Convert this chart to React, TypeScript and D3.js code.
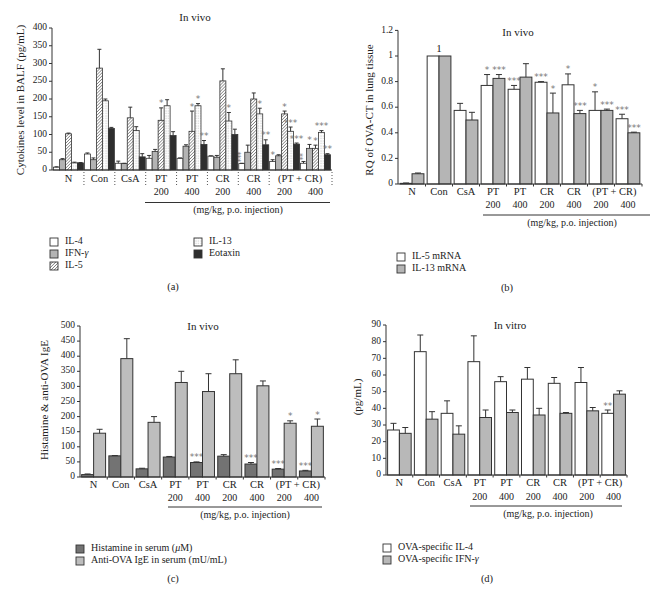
import React from "react";
import * as d3 from "d3";

// ---------- shared categories ----------
const GROUPS = ["N", "Con", "CsA", "PT200", "PT400", "CR200", "CR400", "PTCR200", "PTCR400"];
const CAT_LABELS = ["N", "Con", "CsA", "PT", "PT", "CR", "CR"];
const COMBO_LABEL = "(PT + CR)";
const DOSE_LABELS = ["", "", "", "200", "400", "200", "400", "200", "400"];
const UNIT_LABEL = "(mg/kg, p.o. injection)";

// ---------- panel (a) ----------
const A_IL4 = [8, 45, 19, 33, 33, 39, 18, 24, 19];
const A_IL4_SD = [1, 3, 6, 8, 1, 1, 1, 5, 5];
const A_IL4_SIG = ["", "", "", "", "", "", "*\n*\n*", "*", "*\n*"];
const A_IFN = [29, 29, 18, 52, 67, 36, 50, 40, 61];
const A_IFN_SD = [3, 5, 1, 6, 4, 5, 20, 3, 11];
const A_IFN_SIG = ["", "", "", "", "", "", "", "", "*"];
const A_IL5 = [102, 287, 147, 140, 109, 251, 200, 158, 61];
const A_IL5_SD = [2, 53, 30, 35, 57, 34, 17, 8, 9];
const A_IL5_SIG = ["", "", "", "*", "*", "", "", "*", "*"];
const A_IL13 = [20, 195, 111, 181, 181, 138, 158, 109, 106];
const A_IL13_SD = [2, 5, 11, 17, 6, 24, 16, 12, 5];
const A_IL13_SIG = ["", "", "", "", "*", "*", "*", "***", "***"];
const A_EOT = [20, 117, 37, 97, 72, 100, 71, 73, 43];
const A_EOT_SD = [1, 3, 9, 11, 11, 15, 14, 3, 3];
const A_EOT_SIG = ["", "", "", "", "**", "", "**", "***", "**"];
const A_TICKS = [0, 50, 100, 150, 200, 250, 300, 350, 400];

// ---------- panel (b) ----------
const B_IL5 = [0.005, 1, 0.575, 0.77, 0.74, 0.795, 0.775, 0.575, 0.51];
const B_IL5_SD = [0.003, 0, 0.055, 0.085, 0.03, 0.005, 0.085, 0.145, 0.035];
const B_IL5_SIG = ["", "", "", "*", "***", "***", "*", "*", "***"];
const B_IL13 = [0.08, 1, 0.5, 0.825, 0.835, 0.555, 0.55, 0.575, 0.4];
const B_IL13_SD = [0.006, 0, 0.06, 0.03, 0.105, 0.155, 0.025, 0.01, 0.005];
const B_IL13_SIG = ["", "", "", "***", "", "*", "***", "***", "***"];
const B_NOTES = ["", "1", "", "", "", "", "", "", ""];
const B_TICKS = [0, 0.2, 0.4, 0.6, 0.8, 1, 1.2];

// ---------- panel (c) ----------
const C_HIST = [8, 70, 27, 66, 48, 69, 43, 26, 20];
const C_HIST_SD = [2, 1, 2, 2, 2, 5, 5, 2, 2];
const C_HIST_SIG = ["", "", "", "", "***", "", "***", "***", "***"];
const C_IGE = [145, 392, 181, 313, 283, 342, 302, 178, 168];
const C_IGE_SD = [13, 66, 19, 37, 59, 46, 16, 8, 24];
const C_IGE_SIG = ["", "", "", "", "", "", "", "*", "*"];
const C_TICKS = [0, 50, 100, 150, 200, 250, 300, 350, 400, 450, 500];

// ---------- panel (d) ----------
const D_IL4 = [27, 74, 37, 68, 56, 57.5, 55, 55.5, 37];
const D_IL4_SD = [4, 10, 7.5, 15.5, 3, 7, 3.5, 9, 2];
const D_IL4_SIG = ["", "", "", "", "", "", "", "", "**"];
const D_IFN = [25, 33.5, 24.5, 34.5, 37.5, 36, 37, 38.5, 48.5];
const D_IFN_SD = [3.5, 4.5, 5, 4.5, 1.5, 4, 0.5, 2, 2];
const D_IFN_SIG = ["", "", "", "", "", "", "", "", ""];
const D_TICKS = [0, 10, 20, 30, 40, 50, 60, 70, 80, 90];

const FONT = "'Liberation Serif', 'DejaVu Serif', serif";
const INK = "#333";

type Series = {
  key: string;
  label: React.ReactNode;
  values: number[];
  sd: number[];
  sig: string[];
  fill: string;
};

type PanelProps = {
  series: Series[];
  x0: number; x1: number;
  yBottom: number; yTop: number; yMax: number;
  ticks: number[];
  padInner: number; padOuter: number; barPad: number;
  title: string; titleX: number; titleY: number;
  yLabel: string; yLabelX: number; yLabelY: number;
  catY: number; doseY: number; lineY: number; lineX0: number; lineX1: number;
  unitX: number; unitY: number;
  dotted: boolean;
  legendPos: { x: number; y: number }[];
  tag: string; tagX: number; tagY: number;
  notes?: string[];
  capW: number;
  barStroke: number;
};

function Panel(p: PanelProps) {
  const x = d3.scaleBand<string>().domain(GROUPS).range([p.x0, p.x1])
    .paddingInner(p.padInner).paddingOuter(p.padOuter);
  const xi = d3.scaleBand<string>().domain(p.series.map((s) => s.key))
    .range([0, x.bandwidth()]).paddingInner(p.barPad);
  const y = d3.scaleLinear().domain([0, p.yMax]).range([p.yBottom, p.yTop]);
  const gap = x.step() - x.bandwidth();
  const boundaries = GROUPS.slice(1).map((g) => (x(g) as number) - gap / 2);
  const center = (g: string) => (x(g) as number) + x.bandwidth() / 2;

  return (
    <g fontFamily={FONT}>
      <text x={p.titleX} y={p.titleY} textAnchor="middle" fontSize={11} fill="#222" dominantBaseline="middle">{p.title}</text>
      <text transform={`translate(${p.yLabelX},${p.yLabelY}) rotate(-90)`} textAnchor="middle" fontSize={11} fill="#222" dominantBaseline="middle">{p.yLabel}</text>
      <line x1={p.x0} x2={p.x0} y1={p.yBottom} y2={p.yTop} stroke={INK} strokeWidth={1} />
      {p.ticks.map((t) => (
        <g key={t}>
          <line x1={p.x0 - 3} x2={p.x0} y1={y(t)} y2={y(t)} stroke={INK} />
          <text x={p.x0 - 5} y={y(t)} textAnchor="end" dominantBaseline="middle" fontSize={9.5} fill="#222">{String(t)}</text>
        </g>
      ))}
      {p.series.map((s) => (
        <g key={s.key}>
          {GROUPS.map((g, i) => {
            const bx = (x(g) as number) + (xi(s.key) as number);
            const bw = xi.bandwidth();
            const v = s.values[i];
            const top = y(v);
            const et = y(v + s.sd[i]);
            const cx = bx + bw / 2;
            const sig = s.sig[i] || "";
            const stacked = sig.includes("\n");
            return (
              <g key={g}>
                <rect x={bx} y={top} width={bw} height={Math.max(0, p.yBottom - top)} fill={s.fill} stroke={INK} strokeWidth={p.barStroke} />
                {s.sd[i] > 0 && (
                  <g stroke={INK} strokeWidth={1}>
                    <line x1={cx} x2={cx} y1={top} y2={et} />
                    <line x1={cx - p.capW / 2} x2={cx + p.capW / 2} y1={et} y2={et} />
                  </g>
                )}
                {sig && !stacked && (
                  <text x={cx} y={et - 1.5} textAnchor="middle" fontSize={9} fill="#777" fontFamily="'DejaVu Sans', sans-serif">{sig}</text>
                )}
                {stacked && (
                  <text transform={`translate(${cx},${et - 1}) rotate(-90)`} textAnchor="start" dominantBaseline="central"
                    fontSize={8} letterSpacing={-0.6} fill="#777" fontFamily="'DejaVu Sans', sans-serif">{sig.split("\n").join("")}</text>
                )}
              </g>
            );
          })}
        </g>
      ))}
      {p.notes && p.notes.map((nt, i) => nt ? (
        <text key={i} x={center(GROUPS[i])} y={y(1) - 4} textAnchor="middle" fontSize={11} fill="#222">{nt}</text>
      ) : null)}
      <line x1={p.x0} x2={p.x1} y1={p.yBottom} y2={p.yBottom} stroke={INK} strokeWidth={1} />
      {p.dotted
        ? [...boundaries.filter((_, i) => i !== 7), p.x1].map((b, i) => (
          <line key={i} x1={b} x2={b} y1={p.yBottom + 2} y2={p.yBottom + 17} stroke="#555" strokeWidth={1} strokeDasharray="1,2" />
        ))
        : [...boundaries, p.x1].map((b, i) => (
          <line key={i} x1={b} x2={b} y1={p.yBottom} y2={p.yBottom + 2.5} stroke={INK} />
        ))}
      {CAT_LABELS.map((c, i) => (
        <text key={i} x={center(GROUPS[i])} y={p.catY} textAnchor="middle" dominantBaseline="middle" fontSize={10.5} fill="#222">{c}</text>
      ))}
      <text x={(center(GROUPS[7]) + center(GROUPS[8])) / 2} y={p.catY} textAnchor="middle" dominantBaseline="middle" fontSize={10.5} fill="#222">{COMBO_LABEL}</text>
      {DOSE_LABELS.map((d, i) => d ? (
        <text key={i} x={center(GROUPS[i])} y={p.doseY} textAnchor="middle" dominantBaseline="middle" fontSize={10} fill="#222">{d}</text>
      ) : null)}
      <line x1={p.lineX0} x2={p.lineX1} y1={p.lineY} y2={p.lineY} stroke={INK} strokeWidth={1} />
      <text x={p.unitX} y={p.unitY} textAnchor="middle" dominantBaseline="middle" fontSize={10} fill="#222">{UNIT_LABEL}</text>
      {p.series.map((s, i) => (
        <g key={s.key}>
          <rect x={p.legendPos[i].x} y={p.legendPos[i].y - 4} width={8} height={8} fill={s.fill} stroke={INK} strokeWidth={0.9} />
          <text x={p.legendPos[i].x + 15} y={p.legendPos[i].y} dominantBaseline="middle" fontSize={10} fill="#222">{s.label}</text>
        </g>
      ))}
      <text x={p.tagX} y={p.tagY} textAnchor="middle" dominantBaseline="middle" fontSize={10.5} fill="#222">{p.tag}</text>
    </g>
  );
}

const gammaLabel = (pre: string) => (<>{pre}<tspan fontStyle="italic">γ</tspan></>);

export default function App() {
  const seriesA: Series[] = [
    { key: "IL4", label: "IL-4", values: A_IL4, sd: A_IL4_SD, sig: A_IL4_SIG, fill: "#ffffff" },
    { key: "IFN", label: gammaLabel("IFN-"), values: A_IFN, sd: A_IFN_SD, sig: A_IFN_SIG, fill: "#b3b3b3" },
    { key: "IL5", label: "IL-5", values: A_IL5, sd: A_IL5_SD, sig: A_IL5_SIG, fill: "url(#hatch)" },
    { key: "IL13", label: "IL-13", values: A_IL13, sd: A_IL13_SD, sig: A_IL13_SIG, fill: "url(#dots)" },
    { key: "EOT", label: "Eotaxin", values: A_EOT, sd: A_EOT_SD, sig: A_EOT_SIG, fill: "#2e2e2e" },
  ];
  const seriesB: Series[] = [
    { key: "IL5m", label: "IL-5 mRNA", values: B_IL5, sd: B_IL5_SD, sig: B_IL5_SIG, fill: "#ffffff" },
    { key: "IL13m", label: "IL-13 mRNA", values: B_IL13, sd: B_IL13_SD, sig: B_IL13_SIG, fill: "#b5b5b5" },
  ];
  const seriesC: Series[] = [
    { key: "HIS", label: (<>Histamine in serum (<tspan fontStyle="italic">μ</tspan>M)</>), values: C_HIST, sd: C_HIST_SD, sig: C_HIST_SIG, fill: "#737373" },
    { key: "IGE", label: "Anti-OVA IgE in serum (mU/mL)", values: C_IGE, sd: C_IGE_SD, sig: C_IGE_SIG, fill: "#bdbdbd" },
  ];
  const seriesD: Series[] = [
    { key: "IL4v", label: "OVA-specific IL-4", values: D_IL4, sd: D_IL4_SD, sig: D_IL4_SIG, fill: "#ffffff" },
    { key: "IFNv", label: gammaLabel("OVA-specific IFN-"), values: D_IFN, sd: D_IFN_SD, sig: D_IFN_SIG, fill: "#b8b8b8" },
  ];

  return (
    <svg width={659} height={594} style={{ position: "absolute", left: 0, top: 0, background: "#fff" }}>
      <defs>
        <pattern id="hatch" patternUnits="userSpaceOnUse" width={2.2} height={2.2} patternTransform="rotate(45)">
          <rect width={2.2} height={2.2} fill="#fff" />
          <line x1={0} y1={0} x2={0} y2={2.2} stroke="#555" strokeWidth={1.1} />
        </pattern>
        <pattern id="dots" patternUnits="userSpaceOnUse" width={2.5} height={2.5}>
          <rect width={2.5} height={2.5} fill="#fff" />
          <rect x={0.5} y={0.5} width={0.9} height={0.9} fill="#aaa" />
        </pattern>
      </defs>
      <rect width={659} height={594} fill="#fff" />
      <Panel series={seriesA} x0={52} x1={332} yBottom={170} yTop={28} yMax={400} ticks={A_TICKS}
        padInner={0.03} padOuter={0.05} barPad={0} capW={4} barStroke={0.8}
        title="In vivo" titleX={195} titleY={18}
        yLabel="Cytokines level in BALF (pg/mL)" yLabelX={21} yLabelY={100}
        catY={180} doseY={193} lineY={202.5} lineX0={145} lineX1={330} unitX={238} unitY={211}
        dotted={true}
        legendPos={[{ x: 50, y: 242 }, { x: 50, y: 254 }, { x: 50, y: 266 }, { x: 194, y: 242 }, { x: 194, y: 254 }]}
        tag="(a)" tagX={173} tagY={288} />
      <Panel series={seriesB} x0={398} x1={642} yBottom={184} yTop={30.4} yMax={1.2} ticks={B_TICKS}
        padInner={0.12} padOuter={0.08} barPad={0} capW={6} barStroke={1}
        title="In vivo" titleX={518} titleY={33}
        yLabel="RQ of OVA-CT in lung tissue" yLabelX={370} yLabelY={110}
        catY={193} doseY={206} lineY={215} lineX0={483} lineX1={650} unitX={572} unitY={224}
        dotted={false}
        legendPos={[{ x: 397, y: 257 }, { x: 397, y: 269 }]}
        tag="(b)" tagX={507} tagY={289} notes={B_NOTES} />
      <Panel series={seriesC} x0={80} x1={325} yBottom={477} yTop={326} yMax={500} ticks={C_TICKS}
        padInner={0.12} padOuter={0.06} barPad={0} capW={6} barStroke={1}
        title="In vivo" titleX={203} titleY={327}
        yLabel="Histamine & anti-OVA IgE" yLabelX={45} yLabelY={400}
        catY={486} doseY={499} lineY={507} lineX0={168} lineX1={322} unitX={245} unitY={516}
        dotted={false}
        legendPos={[{ x: 76, y: 549 }, { x: 76, y: 561 }]}
        tag="(c)" tagX={173} tagY={580} />
      <Panel series={seriesD} x0={386} x1={627} yBottom={475} yTop={325} yMax={90} ticks={D_TICKS}
        padInner={0.12} padOuter={0.06} barPad={0} capW={6} barStroke={1}
        title="In vitro" titleX={510} titleY={326}
        yLabel="(pg/mL)" yLabelX={358} yLabelY={397}
        catY={484} doseY={498} lineY={506} lineX0={470} lineX1={622} unitX={548} unitY={515}
        dotted={false}
        legendPos={[{ x: 383, y: 548 }, { x: 383, y: 560 }]}
        tag="(d)" tagX={487} tagY={580} />
    </svg>
  );
}
